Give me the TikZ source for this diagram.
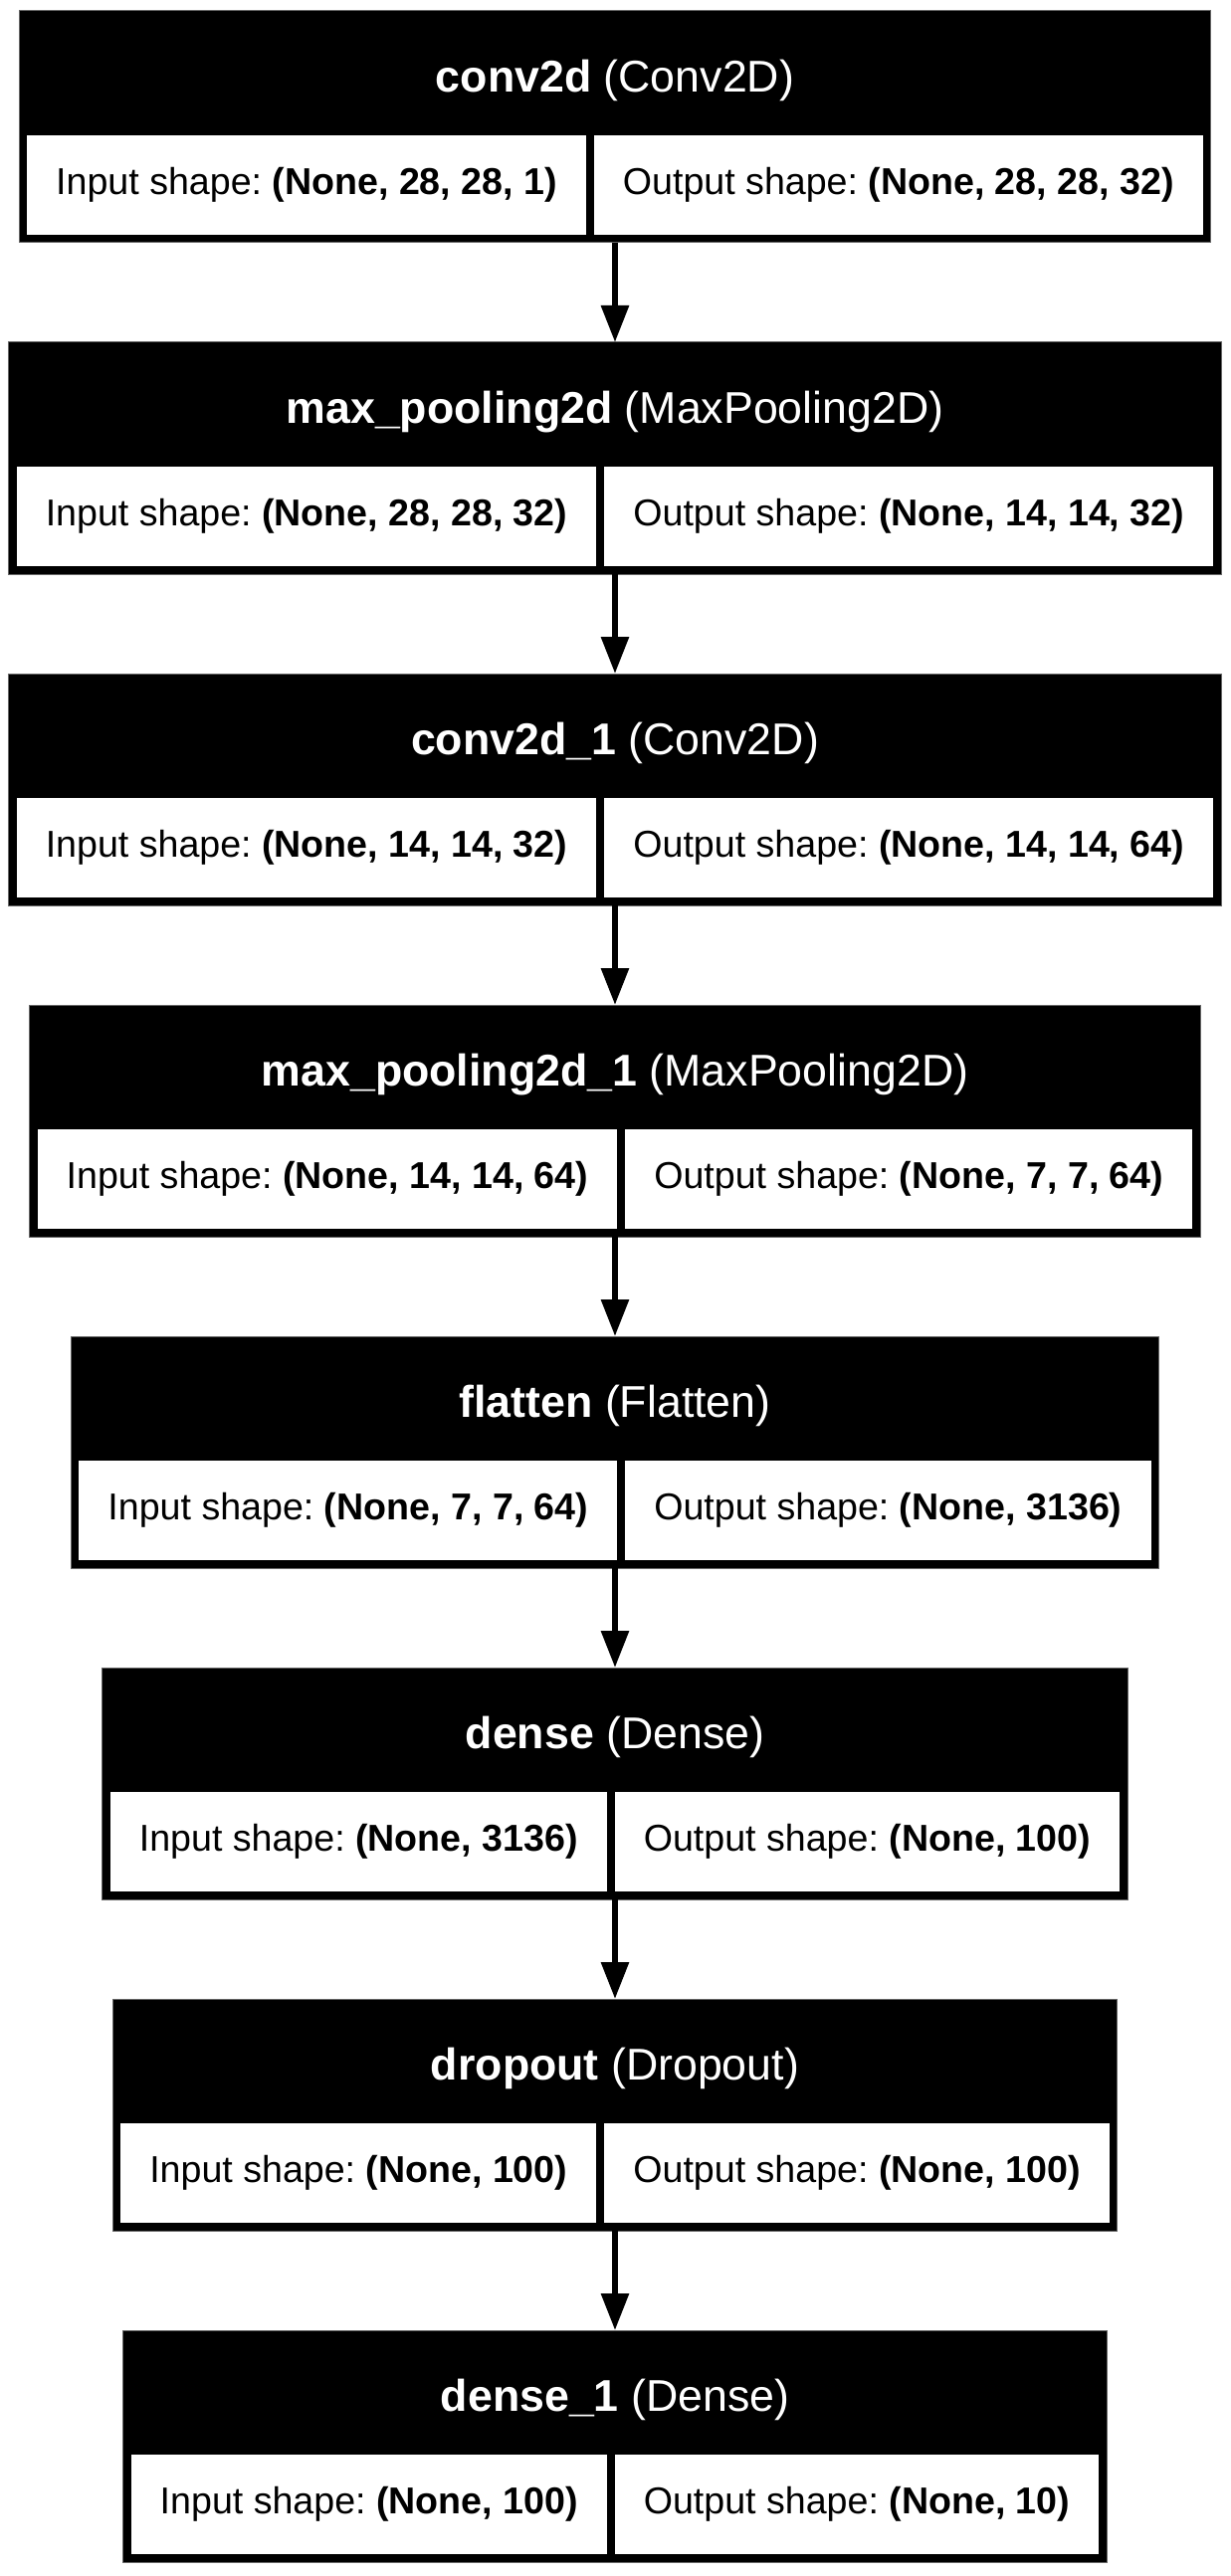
\documentclass[tikz,border=0pt]{standalone}
\usepackage{fontspec}
\setmainfont{Liberation Sans}
\frenchspacing
\usetikzlibrary{arrows.meta,positioning,fit,backgrounds,matrix}
\tikzset{
  lname/.style={text=white, inner sep=0pt, outer sep=0pt,
    minimum height=58.5pt, text height=19.8pt, text depth=4.7pt,
    font=\fontsize{22.35}{26}\selectfont},
  shp/.style={fill=white, inner xsep=14.5pt, inner ysep=0pt, outer sep=0pt,
    minimum height=50pt, text height=13.8pt, text depth=4pt,
    font=\fontsize{18.8}{22}\selectfont},
  cellrow/.style={inner sep=0pt, outer sep=0pt, column sep=4pt},
  layer/.style={fill=black, draw=black!60, line width=0.5pt, inner sep=4pt, outer sep=0pt},
  flow/.style={-{Triangle[length=18.5pt,width=13.5pt]}, line width=3pt}
}

\begin{document}
\begin{tikzpicture}
  \useasboundingbox (-309pt,0pt) rectangle (309pt,-1294.5pt);

  % conv2d
  \node[lname, anchor=north] (t1) at (0,-9.5pt) {\textbf{conv2d} (Conv2D)};
  \matrix[cellrow, below=0pt of t1] (r1) {
    \node[shp] (i1) {Input shape: \textbf{(None, 28, 28, 1)}}; &
    \node[shp] (o1) {Output shape: \textbf{(None, 28, 28, 32)}}; \\
  };

  % max_pooling2d
  \node[lname, below=58pt of r1] (t2) {\textbf{max\_pooling2d} (MaxPooling2D)};
  \matrix[cellrow, below=0pt of t2] (r2) {
    \node[shp] (i2) {Input shape: \textbf{(None, 28, 28, 32)}}; &
    \node[shp] (o2) {Output shape: \textbf{(None, 14, 14, 32)}}; \\
  };

  % conv2d_1
  \node[lname, below=58pt of r2] (t3) {\textbf{conv2d\_1} (Conv2D)};
  \matrix[cellrow, below=0pt of t3] (r3) {
    \node[shp] (i3) {Input shape: \textbf{(None, 14, 14, 32)}}; &
    \node[shp] (o3) {Output shape: \textbf{(None, 14, 14, 64)}}; \\
  };

  % max_pooling2d_1
  \node[lname, below=58pt of r3] (t4) {\textbf{max\_pooling2d\_1} (MaxPooling2D)};
  \matrix[cellrow, below=0pt of t4] (r4) {
    \node[shp] (i4) {Input shape: \textbf{(None, 14, 14, 64)}}; &
    \node[shp] (o4) {Output shape: \textbf{(None, 7, 7, 64)}}; \\
  };

  % flatten
  \node[lname, below=58pt of r4] (t5) {\textbf{flatten} (Flatten)};
  \matrix[cellrow, below=0pt of t5] (r5) {
    \node[shp] (i5) {Input shape: \textbf{(None, 7, 7, 64)}}; &
    \node[shp] (o5) {Output shape: \textbf{(None, 3136)}}; \\
  };

  % dense
  \node[lname, below=58pt of r5] (t6) {\textbf{dense} (Dense)};
  \matrix[cellrow, below=0pt of t6] (r6) {
    \node[shp] (i6) {Input shape: \textbf{(None, 3136)}}; &
    \node[shp] (o6) {Output shape: \textbf{(None, 100)}}; \\
  };

  % dropout
  \node[lname, below=58pt of r6] (t7) {\textbf{dropout} (Dropout)};
  \matrix[cellrow, below=0pt of t7] (r7) {
    \node[shp] (i7) {Input shape: \textbf{(None, 100)}}; &
    \node[shp] (o7) {Output shape: \textbf{(None, 100)}}; \\
  };

  % dense_1
  \node[lname, below=58pt of r7] (t8) {\textbf{dense\_1} (Dense)};
  \matrix[cellrow, below=0pt of t8] (r8) {
    \node[shp] (i8) {Input shape: \textbf{(None, 100)}}; &
    \node[shp] (o8) {Output shape: \textbf{(None, 10)}}; \\
  };

  % black layer boxes
  \begin{scope}[on background layer]
    \foreach \k in {1,...,8}
      \node[layer, fit=(t\k)(r\k)] (L\k) {};
  \end{scope}

  \foreach \a/\b in {1/2,2/3,3/4,4/5,5/6,6/7,7/8}
    \draw[flow] (L\a.south) -- (L\b.north);
\end{tikzpicture}
\end{document}
